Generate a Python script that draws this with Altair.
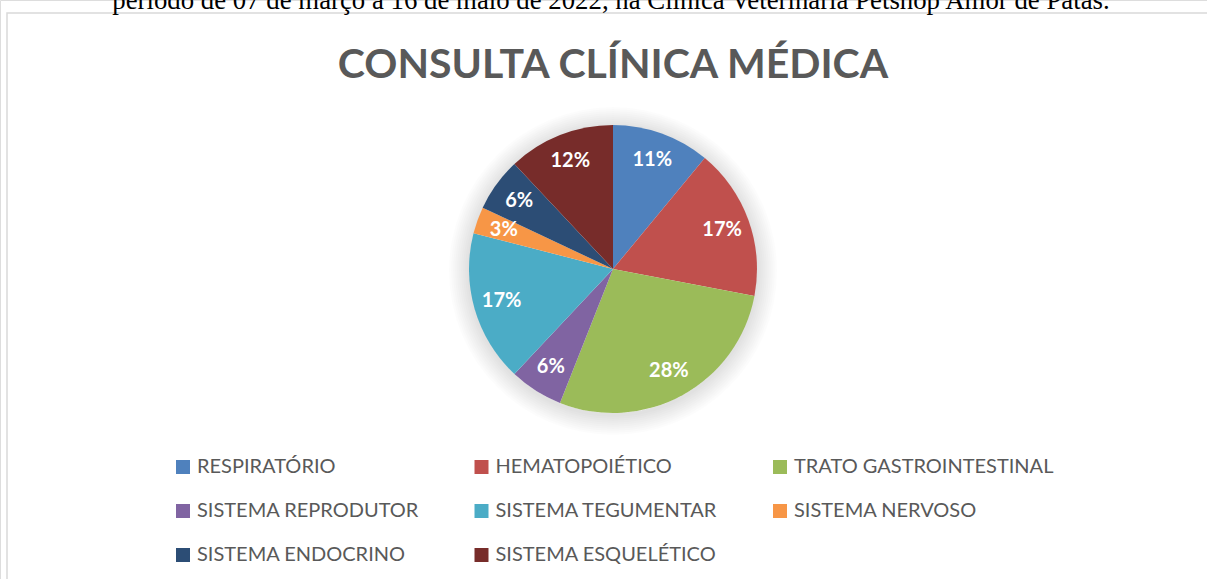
import altair as alt
import pandas as pd

# ---- data ----
categorias = [
    "RESPIRATÓRIO",
    "HEMATOPOIÉTICO",
    "TRATO GASTROINTESTINAL",
    "SISTEMA REPRODUTOR",
    "SISTEMA TEGUMENTAR",
    "SISTEMA NERVOSO",
    "SISTEMA ENDOCRINO",
    "SISTEMA ESQUELÉTICO",
]
percentuais = [11, 17, 28, 6, 17, 3, 6, 12]
cores = ["#4F81BD", "#C0504D", "#9BBB59", "#8064A2",
         "#4BACC6", "#F79646", "#2C4D75", "#772C2A"]
titulo = ["CONSULTA CLÍNICA MÉDICA"]
legenda_topo = ["período de 07 de março a 16 de maio de 2022, na Clínica Veterinária Petshop Amor de Patas."]

df = pd.DataFrame({
    "categoria": categorias,
    "pct": percentuais,
    "ordem": list(range(len(categorias))),
})
df["rotulo"] = df["pct"].astype(str) + "%"

W, H = 1207, 579
CX, CY, R = 613, 269, 144

# frame of the chart box
frame = alt.Chart(pd.DataFrame({"k": [0]})).mark_rect(
    filled=False, stroke="#D9D9D9", strokeWidth=1.5
).encode(
    x=alt.value(7), x2=alt.value(1230), y=alt.value(13), y2=alt.value(620)
)

# soft shadow rings around the pie
shadow_layers = []
for r in [146, 148, 150, 152, 154, 156, 158, 160, 162, 164]:
    shadow_layers.append(
        alt.Chart(pd.DataFrame({"k": [0]})).mark_arc(
            theta=0, theta2=6.2832, radius=r, radius2=R - 2,
            color="#000000", opacity=0.011
        ).encode(x=alt.value(CX), y=alt.value(CY + 2))
    )

base = alt.Chart(df).encode(
    theta=alt.Theta("pct:Q", stack=True),
    order=alt.Order("ordem:Q"),
    x=alt.value(CX),
    y=alt.value(CY),
)

pie = base.mark_arc(radius=R).encode(
    color=alt.Color(
        "categoria:N",
        scale=alt.Scale(domain=categorias, range=cores),
        legend=alt.Legend(
            title=None,
            orient="none",
            direction="horizontal",
            legendX=173,
            legendY=457,
            columns=3,
            gridAlign="all",
            columnPadding=14.5,
            rowPadding=24,
            symbolType="square",
            symbolSize=196,
            symbolStrokeWidth=0,
            symbolOpacity=1,
            labelFont="Lato",
            labelFontSize=20,
            labelColor="#595959",
            labelOffset=4,
            labelLimit=400,
            padding=0,
        ),
    )
)

labels = base.mark_text(
    radius=116, font="Lato", fontSize=20, fontWeight="bold",
    color="white", align="center", baseline="middle"
).encode(text="rotulo:N")

title_layer = alt.Chart(pd.DataFrame({"t": titulo})).mark_text(
    font="Lato", fontSize=41, fontWeight="bold", color="#595959",
    align="center", baseline="alphabetic"
).encode(text="t:N", x=alt.value(613), y=alt.value(78))

top_text = alt.Chart(pd.DataFrame({"t": legenda_topo})).mark_text(
    font="Liberation Serif", fontSize=26.8, color="#000000",
    align="center", baseline="alphabetic"
).encode(text="t:N", x=alt.value(611), y=alt.value(9))

chart = alt.layer(
    frame, *shadow_layers, pie, labels, title_layer, top_text
).properties(
    width=W, height=H, padding=0,
    autosize=alt.AutoSizeParams(type="none"),
).configure_view(stroke=None).configure(background="white")

chart.save("out.html", embed_options={"renderer": "svg", "actions": False})
